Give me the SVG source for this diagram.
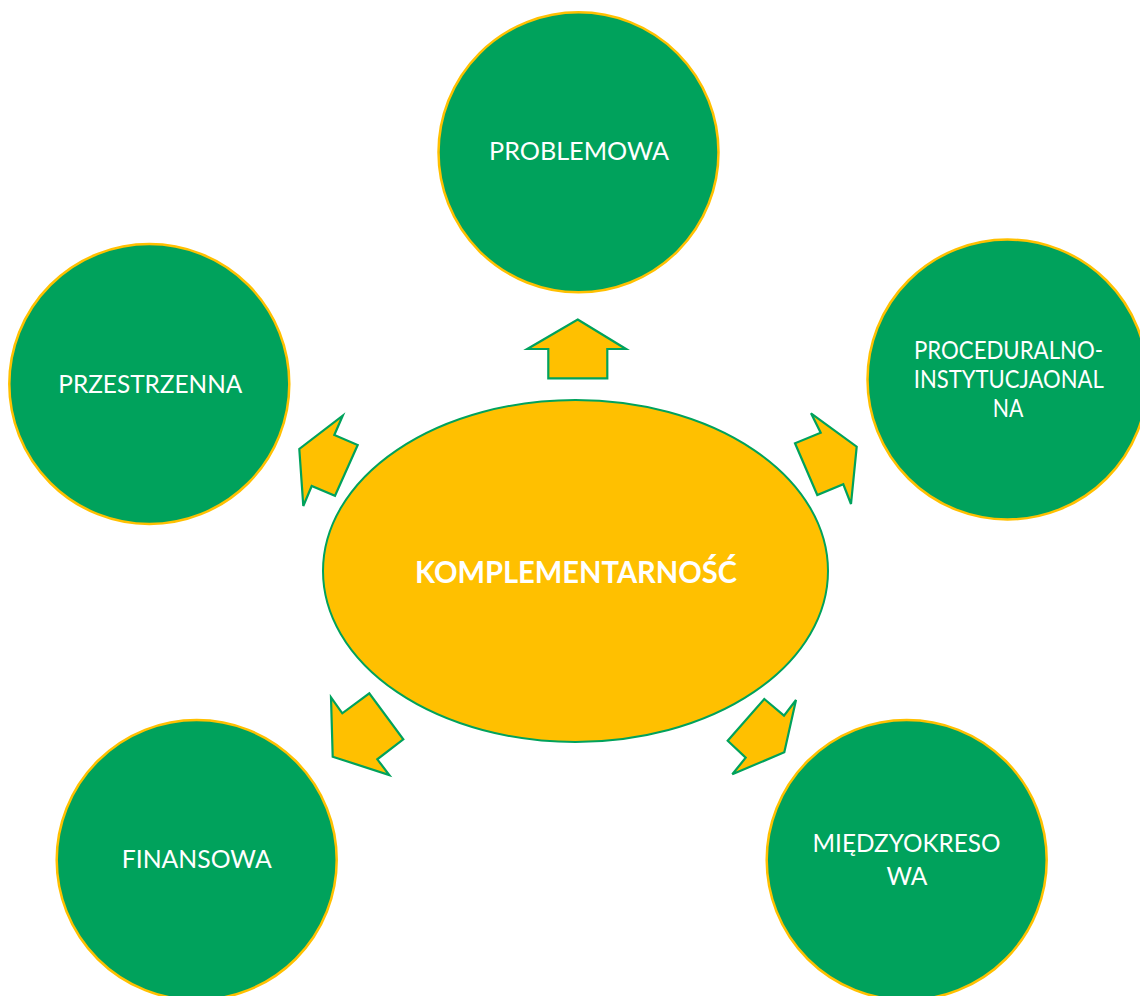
<svg xmlns="http://www.w3.org/2000/svg" width="1140" height="996" viewBox="0 0 1140 996">
<style>
.node{fill:#00A25C;stroke:#FFC000;stroke-width:2.5}
.center{fill:#FFC000;stroke:#00A25C;stroke-width:2}
.arr{fill:#FFC000;stroke:#00A25C;stroke-width:2.2;stroke-linejoin:miter}
.lbl{font-family:Lato,"Open Sans","Liberation Sans",sans-serif;font-size:25px;fill:#FFFFFF;text-anchor:middle}
.clbl{font-family:Lato,"Open Sans","Liberation Sans",sans-serif;font-size:30px;font-weight:bold;fill:#FFFFFF;text-anchor:middle}
</style>
<rect width="1140" height="996" fill="#FFFFFF"/>
<g id="connectors">
<polygon class="arr" points="577.7,319.5 626,349 607.3,349 607.3,378.3 548.3,378.3 548.3,349 527.3,349"/>
<polygon class="arr" points="342.7,415.7 334.3,435 357.7,445 335,495.7 311.7,486 303.3,506 299.3,449"/>
<polygon class="arr" points="811,413.3 820.7,432.7 795,443.3 817.3,495 843.3,484.3 851,504 856.7,446.7"/>
<polygon class="arr" points="331,697.3 342.3,713.3 369.3,693.3 403.3,739.3 377.3,759.3 389.3,775 332.7,756.7"/>
<polygon class="arr" points="764.3,699 784,715.7 796,700 784.3,752.3 732.3,774.3 745.7,757.7 727.7,740.7"/>
</g>
<g id="node-center">
<ellipse class="center" cx="575.5" cy="571" rx="252.5" ry="171"/>
<text class="clbl" x="576" y="583.3" textLength="322" lengthAdjust="spacingAndGlyphs">KOMPLEMENTARNOŚĆ</text>
</g>
<g id="node-problemowa">
<circle class="node" cx="578.5" cy="152.3" r="140"/>
<text class="lbl" x="579" y="160" textLength="180" lengthAdjust="spacingAndGlyphs">PROBLEMOWA</text>
</g>
<g id="node-przestrzenna">
<circle class="node" cx="149.3" cy="384" r="140"/>
<text class="lbl" x="150.3" y="393.3" textLength="184" lengthAdjust="spacingAndGlyphs">PRZESTRZENNA</text>
</g>
<g id="node-proceduralno">
<circle class="node" cx="1007.5" cy="379.5" r="140"/>
<text class="lbl" x="1008.5" y="359.3" textLength="189" lengthAdjust="spacingAndGlyphs">PROCEDURALNO-</text>
<text class="lbl" x="1008.8" y="388.3" textLength="190" lengthAdjust="spacingAndGlyphs">INSTYTUCJAONAL</text>
<text class="lbl" x="1008" y="417.3" textLength="30.6" lengthAdjust="spacingAndGlyphs">NA</text>
</g>
<g id="node-finansowa">
<circle class="node" cx="196.7" cy="860" r="140"/>
<text class="lbl" x="196.7" y="867.7" textLength="150" lengthAdjust="spacingAndGlyphs">FINANSOWA</text>
</g>
<g id="node-miedzyokresowa">
<circle class="node" cx="906.7" cy="860" r="140"/>
<text class="lbl" x="906.5" y="851.7" textLength="188" lengthAdjust="spacingAndGlyphs">MIĘDZYOKRESO</text>
<text class="lbl" x="907" y="885" textLength="41" lengthAdjust="spacingAndGlyphs">WA</text>
</g>
</svg>
